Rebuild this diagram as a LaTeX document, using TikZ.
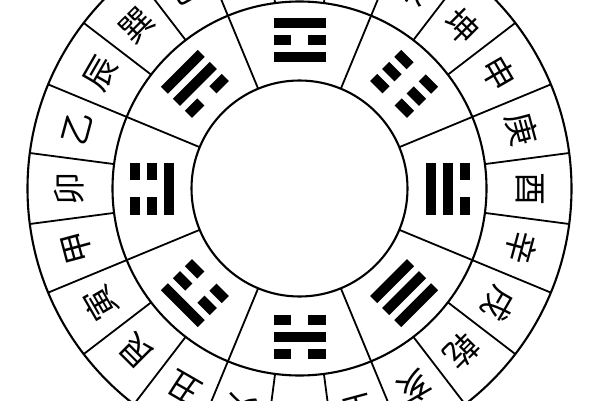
\documentclass[tikz,border=0pt]{standalone}
\usepackage{fontspec}
\newfontfamily\cjk{Noto Sans CJK SC}
\newcommand\drawyao[2]{%
  \ifnum#2=1
    \fill (-26,#1-5) rectangle (26,#1+5);
  \else
    \fill (-26,#1-5) rectangle (-8.5,#1+5);
    \fill (8.5,#1-5) rectangle (26,#1+5);
  \fi}
\begin{document}
\begin{tikzpicture}[x=1pt,y=1pt,
  ring/.style={line width=2.1pt},
  spoke/.style={line width=1.8pt},
  mtn/.style={font=\cjk\fontsize{33}{33}\selectfont, inner sep=0pt}]
\useasboundingbox (0,0) rectangle (600,400);
\fill[white] (0,0) rectangle (600,400);
\clip (0,0) rectangle (600,400);
\coordinate (O) at (299.5,211.5);
\begin{scope}[shift={(O)}]
  % rings
  \draw[ring] (0,0) circle (108);
  \draw[ring] (0,0) circle (187);
  \draw[ring] (0,0) circle (272);
  % spokes of trigram ring
  \foreach \a in {22.5,67.5,...,337.5}
    \draw[spoke] (\a:108) -- (\a:187);
  % spokes of mountain ring
  \foreach \a in {7.5,22.5,...,352.5}
    \draw[spoke] (\a:187) -- (\a:272);
  % 24 mountains
  \foreach \ch [count=\i from 0] in {子,癸,丑,艮,寅,甲,卯,乙,辰,巽,巳,丙,午,丁,未,坤,申,庚,酉,辛,戌,乾,亥,壬}{
    \pgfmathsetmacro\ang{270-15*\i}
    \node[mtn, rotate=\ang-90] (m\i) at (\ang:230) {\ch};
  }
  % eight trigrams (bottom line innermost)
  \foreach \t/\b/\m/\u in {90/1/0/1, 45/0/0/0, 0/1/1/0, -45/1/1/1,
                            -90/0/1/0, 225/0/0/1, 180/1/0/0, 135/0/1/1}{
    \begin{scope}[rotate=\t-90]
      \drawyao{131}{\b}
      \drawyao{148}{\m}
      \drawyao{165}{\u}
    \end{scope}
  }
\end{scope}
\end{tikzpicture}
\end{document}
